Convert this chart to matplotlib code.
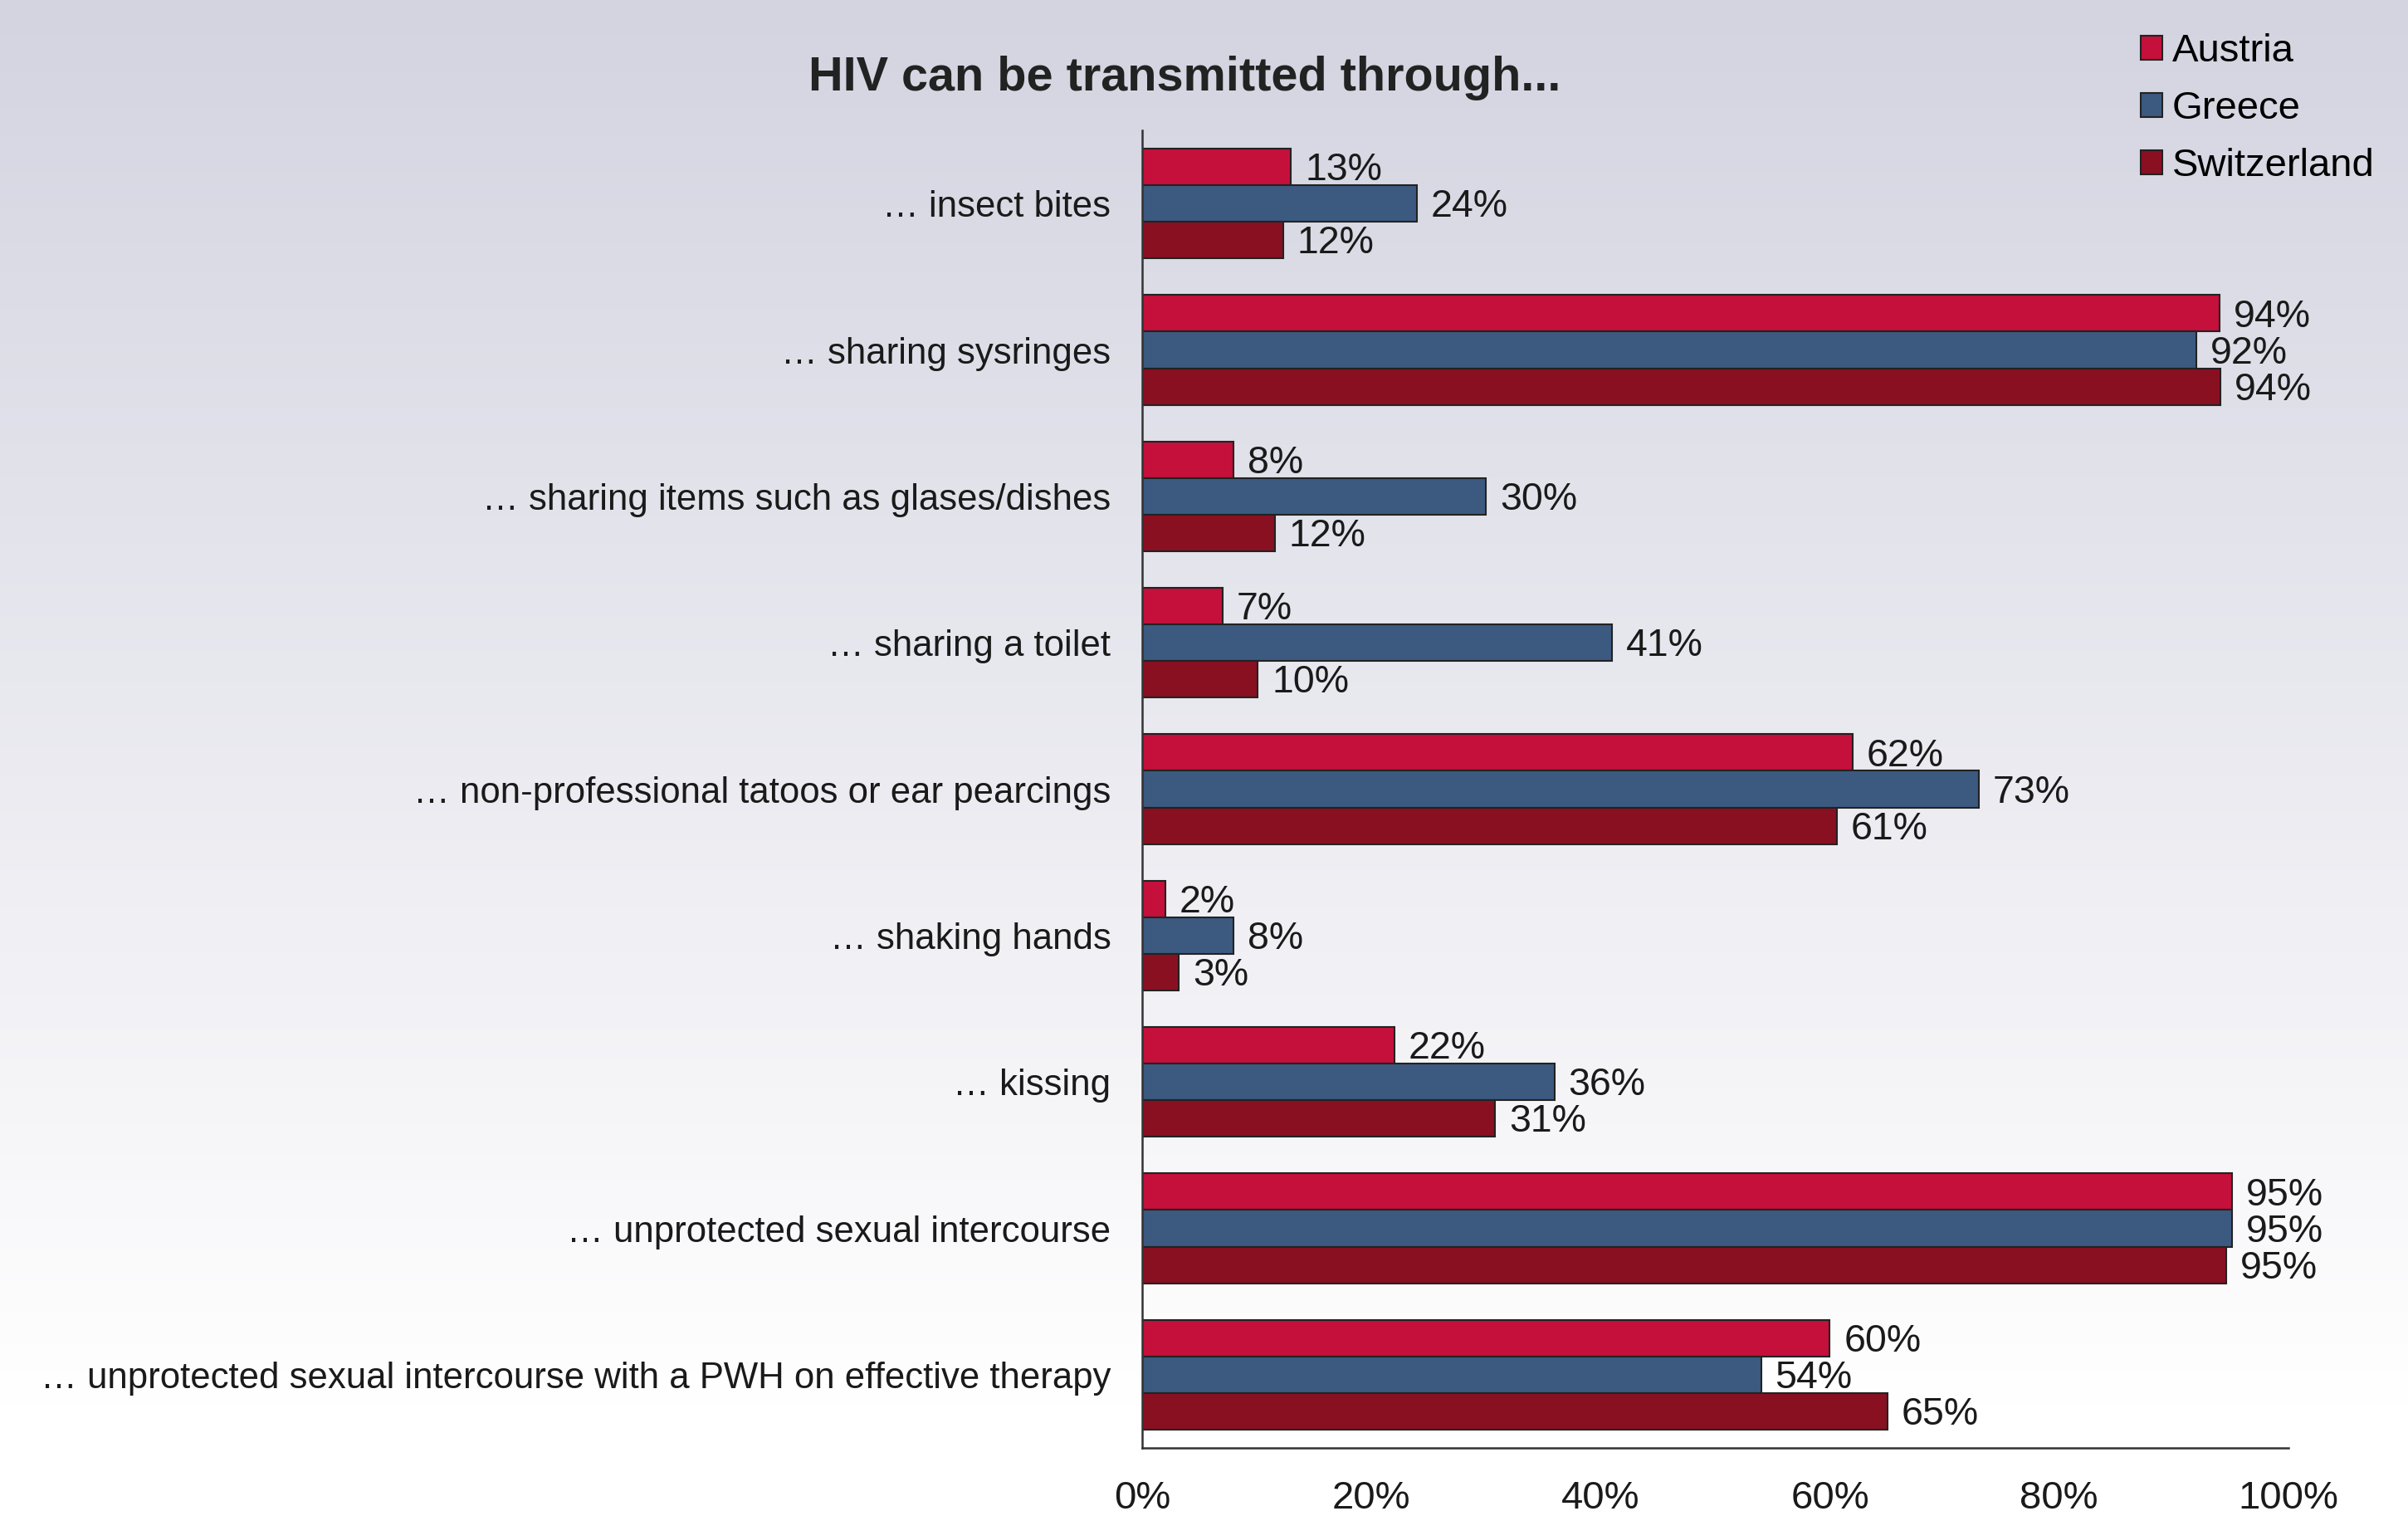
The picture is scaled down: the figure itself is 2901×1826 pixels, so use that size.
import numpy as np
import matplotlib
matplotlib.use("Agg")
import matplotlib.pyplot as plt
from matplotlib.colors import LinearSegmentedColormap

plt.rcParams['font.family'] = ['Liberation Sans', 'DejaVu Sans']

# data (percent of respondents)
categories = [
    "\u2026 insect bites",
    "\u2026 sharing sysringes",
    "\u2026 sharing items such as glases/dishes",
    "\u2026 sharing a toilet",
    "\u2026 non-professional tatoos or ear pearcings",
    "\u2026 shaking hands",
    "\u2026 kissing",
    "\u2026 unprotected sexual intercourse",
    "\u2026 unprotected sexual intercourse with a PWH on effective therapy",
]
austria = [13, 94, 8, 7, 62, 2, 22, 95.1, 60]
greece = [24, 92, 30, 41, 73, 8, 36, 95.1, 54]
switzerland = [12.3, 94.1, 11.6, 10.1, 60.6, 3.2, 30.8, 94.6, 65]
countries = ["Austria", "Greece", "Switzerland"]
colors = ["#C5103C", "#3C5A80", "#891021"]
xticks = [0, 20, 40, 60, 80, 100]

fig = plt.figure(figsize=(29.01, 18.26), dpi=100)

# background gradient: lavender grey at top fading to white near the bottom
bg = fig.add_axes([0, 0, 1, 1], zorder=-10)
cmap = LinearSegmentedColormap.from_list(
    "bg", [(0, "#D3D4E0"), (0.45, "#E8E8EF"), (0.93, "#FFFFFF"), (1, "#FFFFFF")])
grad = np.linspace(0, 1, 500).reshape(-1, 1)
bg.imshow(grad, aspect='auto', cmap=cmap, extent=[0, 1, 1, 0], vmin=0, vmax=1)
bg.axis('off')

ax = fig.add_axes([0.4743, 0.0449, 0.4760, 0.8691])
ax.set_facecolor('none')

y = np.arange(len(categories))
h = 0.25
series = [austria, greece, switzerland]
bars = []
for i, (vals, col, name) in enumerate(zip(series, colors, countries)):
    b = ax.barh(y + (i - 1) * h, vals, height=h, color=col, edgecolor="#222222",
                linewidth=1.5, label=name)
    bars.append(b)
    for yy, v in zip(y + (i - 1) * h, vals):
        ax.annotate(f"{v:.0f}%", xy=(v, yy), xytext=(12, -3), textcoords='offset points',
                    va='center', ha='left', fontsize=33.5, color="#1a1a1a")

ax.set_xlim(0, 100)
ax.set_ylim(len(categories) - 0.5, -0.5)
ax.set_yticks(y)
ax.set_yticklabels(categories, fontsize=31.5, color="#1a1a1a")
ax.set_xticks(xticks)
ax.set_xticklabels([f"{t}%" for t in xticks], fontsize=34, color="#1a1a1a")
ax.tick_params(axis='x', length=0, pad=28)
ax.tick_params(axis='y', length=0, pad=27)
for s in ['top', 'right']:
    ax.spines[s].set_visible(False)
for s in ['left', 'bottom']:
    ax.spines[s].set_color("#333333")
    ax.spines[s].set_linewidth(1.8)

fig.text(0.492, 1 - 94 / 1826, "HIV can be transmitted through...", ha='center', va='center',
         fontsize=41.5, fontweight='bold', color="#222222")

fig.legend(handles=bars, labels=countries, loc='upper left', bbox_to_anchor=(0.889, 0.978),
           frameon=False, fontsize=34, handlelength=0.55, handleheight=0.55,
           handletextpad=0.25, labelspacing=0.53, borderpad=0, borderaxespad=0)

fig.savefig("out.png", dpi=100)
